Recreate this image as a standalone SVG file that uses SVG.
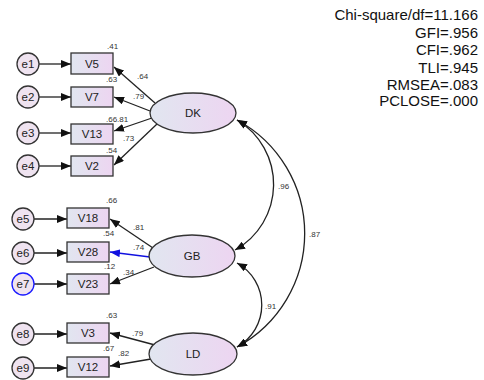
<svg xmlns="http://www.w3.org/2000/svg" width="484" height="380" viewBox="0 0 484 380">
<defs>
<linearGradient id="g" x1="0" y1="0" x2="1" y2="0">
<stop offset="0" stop-color="#e1e6f0"/>
<stop offset="1" stop-color="#edd5f1"/>
</linearGradient>
<marker id="ah" viewBox="0 0 10 8" refX="10" refY="4" markerWidth="10" markerHeight="8" markerUnits="userSpaceOnUse" orient="auto-start-reverse">
<path d="M0,0 L10,4 L0,8 Z" fill="#111"/>
</marker>
<marker id="ahb" viewBox="0 0 10 8" refX="10" refY="4" markerWidth="10" markerHeight="8" markerUnits="userSpaceOnUse" orient="auto">
<path d="M0,0 L10,4 L0,8 Z" fill="#1010e0"/>
</marker>
<style>
.box{fill:url(#g);stroke:#333;stroke-width:1.3}
.lat{fill:url(#g);stroke:#333;stroke-width:1.3}
.err{fill:#efe3f0;stroke:#333;stroke-width:1.3}
.lbl{font-family:"Liberation Sans",Arial,sans-serif;font-size:11.5px;fill:#222;text-anchor:middle}
.num{font-family:"Liberation Sans",Arial,sans-serif;font-size:8px;fill:#333}
.fit{font-family:"Liberation Sans",Arial,sans-serif;font-size:15px;fill:#111;text-anchor:end}
.ln{stroke:#222;stroke-width:1.3;fill:none;marker-end:url(#ah)}
.cv{stroke:#222;stroke-width:1.3;fill:none;marker-end:url(#ah);marker-start:url(#ah)}
</style>
</defs>
<g id="connectors">
<path class="ln" d="M39,64 L71,64"/>
<path class="ln" d="M39,97 L71,97"/>
<path class="ln" d="M39,133 L71,133"/>
<path class="ln" d="M39,166 L71,166"/>
<path class="ln" d="M34,219 L67,219"/>
<path class="ln" d="M34,253 L67,253"/>
<path class="ln" d="M34,284 L67,284"/>
<path class="ln" d="M34,334 L67,334"/>
<path class="ln" d="M34,368 L67,368"/>
<path class="ln" d="M155,103 L114,67"/>
<path class="ln" d="M150,111 L114,97"/>
<path class="ln" d="M152,118 L114,131"/>
<path class="ln" d="M157,124 L114,165"/>
<path class="ln" d="M153,248 L110,219"/>
<path d="M150,257 L110,252" fill="none" stroke="#1010e0" stroke-width="1.3" marker-end="url(#ahb)"/>
<path class="ln" d="M154,267 L110,284"/>
<path class="ln" d="M155,345 L110,333"/>
<path class="ln" d="M151,359 L110,366"/>
<path class="cv" d="M237,120 A75,75 0 0 1 235,250"/>
<path class="cv" d="M237,120 A129,129 0 0 1 237,347"/>
<path class="cv" d="M237,263 A48,48 0 0 1 237,347"/>
</g>
<g id="e1"><circle class="err" cx="28" cy="64" r="11"/><text class="lbl" x="28" y="68">e1</text></g>
<g id="e2"><circle class="err" cx="28" cy="97" r="11"/><text class="lbl" x="28" y="101">e2</text></g>
<g id="e3"><circle class="err" cx="28" cy="133" r="11"/><text class="lbl" x="28" y="137">e3</text></g>
<g id="e4"><circle class="err" cx="28" cy="166" r="11"/><text class="lbl" x="28" y="170">e4</text></g>
<g id="e5"><circle class="err" cx="23" cy="219" r="11"/><text class="lbl" x="23" y="223">e5</text></g>
<g id="e6"><circle class="err" cx="23" cy="253" r="11"/><text class="lbl" x="23" y="257">e6</text></g>
<g id="e7"><circle class="err" cx="23" cy="284" r="11" style="stroke:#1a1aff"/><text class="lbl" x="23" y="288">e7</text></g>
<g id="e8"><circle class="err" cx="23" cy="334" r="11"/><text class="lbl" x="23" y="338">e8</text></g>
<g id="e9"><circle class="err" cx="23" cy="368" r="11"/><text class="lbl" x="23" y="372">e9</text></g>
<g id="V5"><rect class="box" x="71" y="53" width="42" height="21"/><text class="lbl" x="92" y="68">V5</text><text class="num" x="107" y="49">.41</text></g>
<g id="V7"><rect class="box" x="71" y="87" width="42" height="20"/><text class="lbl" x="92" y="101">V7</text><text class="num" x="106" y="82">.63</text></g>
<g id="V13"><rect class="box" x="71" y="124" width="42" height="20"/><text class="lbl" x="92" y="138">V13</text><text class="num" x="106" y="122">.66</text></g>
<g id="V2"><rect class="box" x="71" y="156" width="42" height="20"/><text class="lbl" x="92" y="170">V2</text><text class="num" x="106" y="153">.54</text></g>
<g id="V18"><rect class="box" x="67" y="208" width="42" height="20"/><text class="lbl" x="88" y="222">V18</text><text class="num" x="106" y="203">.66</text></g>
<g id="V28"><rect class="box" x="67" y="242" width="42" height="20"/><text class="lbl" x="88" y="256">V28</text><text class="num" x="103" y="236">.54</text></g>
<g id="V23"><rect class="box" x="67" y="274" width="42" height="20"/><text class="lbl" x="88" y="288">V23</text><text class="num" x="104" y="269">.12</text></g>
<g id="V3"><rect class="box" x="67" y="323" width="42" height="20"/><text class="lbl" x="88" y="337">V3</text><text class="num" x="106" y="318">.63</text></g>
<g id="V12"><rect class="box" x="67" y="357" width="42" height="20"/><text class="lbl" x="88" y="371">V12</text><text class="num" x="103" y="351">.67</text></g>
<g id="DK"><ellipse class="lat" cx="193" cy="113" rx="43" ry="20"/><text class="lbl" x="193" y="117">DK</text></g>
<g id="GB"><ellipse class="lat" cx="192" cy="256" rx="43" ry="21"/><text class="lbl" x="192" y="260">GB</text></g>
<g id="LD"><ellipse class="lat" cx="193" cy="354" rx="44" ry="21"/><text class="lbl" x="193" y="358">LD</text></g>
<g id="loadings">
<text class="num" x="137" y="79">.64</text>
<text class="num" x="133" y="99">.79</text>
<text class="num" x="117" y="122">.81</text>
<text class="num" x="123" y="141">.73</text>
<text class="num" x="133" y="230">.81</text>
<text class="num" x="133" y="250">.74</text>
<text class="num" x="123" y="275">.34</text>
<text class="num" x="132" y="336">.79</text>
<text class="num" x="118" y="356">.82</text>
<text class="num" x="278" y="189">.96</text>
<text class="num" x="309" y="237">.87</text>
<text class="num" x="265" y="309">.91</text>
</g>
<g id="fit">
<text class="fit" x="478" y="20">Chi-square/df=11.166</text>
<text class="fit" x="478" y="37.5">GFI=.956</text>
<text class="fit" x="478" y="55">CFI=.962</text>
<text class="fit" x="478" y="72.5">TLI=.945</text>
<text class="fit" x="478" y="89.5">RMSEA=.083</text>
<text class="fit" x="478" y="106">PCLOSE=.000</text>
</g>
</svg>
